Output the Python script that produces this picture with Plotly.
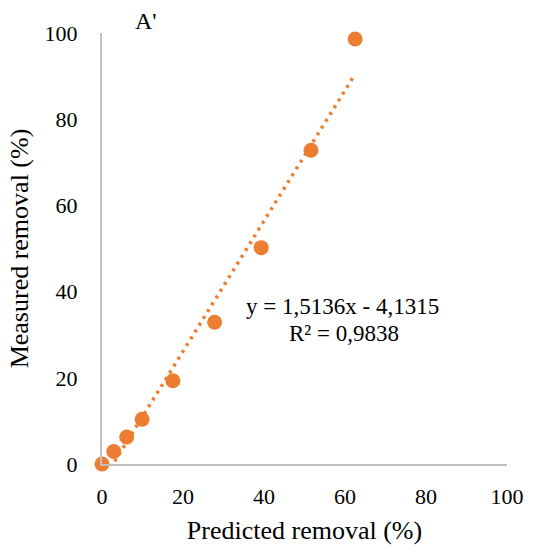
import plotly.graph_objects as go

predicted = [0, 2.9, 6.1, 9.9, 17.5, 27.8, 39.3, 51.6, 62.5]
measured = [0, 2.9, 6.25, 10.4, 19.3, 32.9, 50.2, 72.8, 98.6]
slope = 1.5136
intercept = -4.1315
r2 = 0.9838
x_ticks = [0, 20, 40, 60, 80, 100]
y_ticks = [0, 20, 40, 60, 80, 100]

ORANGE = "#ED7D31"
FONT = "Liberation Serif, Times New Roman, serif"

fig = go.Figure()
fig.add_trace(go.Scatter(
    x=predicted, y=measured, mode="markers",
    marker=dict(color=ORANGE, size=15, line=dict(width=0)),
    cliponaxis=False, showlegend=False,
))
xl = [min(predicted), max(predicted)]
yl = [slope * v + intercept for v in xl]
fig.add_trace(go.Scatter(
    x=xl, y=yl, mode="lines",
    line=dict(color=ORANGE, width=3.5, dash="3px,5px"),
    showlegend=False,
))

fig.update_layout(
    width=536, height=552,
    margin=dict(l=102, r=25, t=33, b=87),
    paper_bgcolor="white", plot_bgcolor="white",
    font=dict(family=FONT, color="#000000", size=22),
    xaxis=dict(
        range=[0, 100], tickvals=x_ticks, showgrid=False, zeroline=False,
        showline=True, linecolor="#C0C0C0", linewidth=2, ticks="",
        ticklabelstandoff=12, tickfont=dict(family=FONT, size=22, color="#000000"),
        title=dict(text="Predicted removal (%)", font=dict(family=FONT, size=26), standoff=12),
    ),
    yaxis=dict(
        range=[0, 100], tickvals=y_ticks, showgrid=False, zeroline=False,
        showline=True, linecolor="#C0C0C0", linewidth=2, ticks="",
        ticklabelstandoff=18, tickfont=dict(family=FONT, size=22, color="#000000"),
        title=dict(text="Measured removal (%)", font=dict(family=FONT, size=26), standoff=8),
    ),
    annotations=[
        dict(text="A'", xref="paper", yref="paper", x=(146 - 102) / 409, y=(465 - 21) / 432,
             showarrow=False, font=dict(family=FONT, size=24), xanchor="center", yanchor="middle"),
        dict(text=f"y = {str(slope).replace('.', ',')}x - {str(-intercept).replace('.', ',')}",
             xref="paper", yref="paper", x=(345 - 102) / 409, y=(465 - 307) / 432,
             showarrow=False, font=dict(family=FONT, size=23), xanchor="center", yanchor="middle"),
        dict(text=f"R² = {str(r2).replace('.', ',')}",
             xref="paper", yref="paper", x=(346 - 102) / 409, y=(465 - 334) / 432,
             showarrow=False, font=dict(family=FONT, size=23), xanchor="center", yanchor="middle"),
    ],
)

fig.write_html("out.html")
